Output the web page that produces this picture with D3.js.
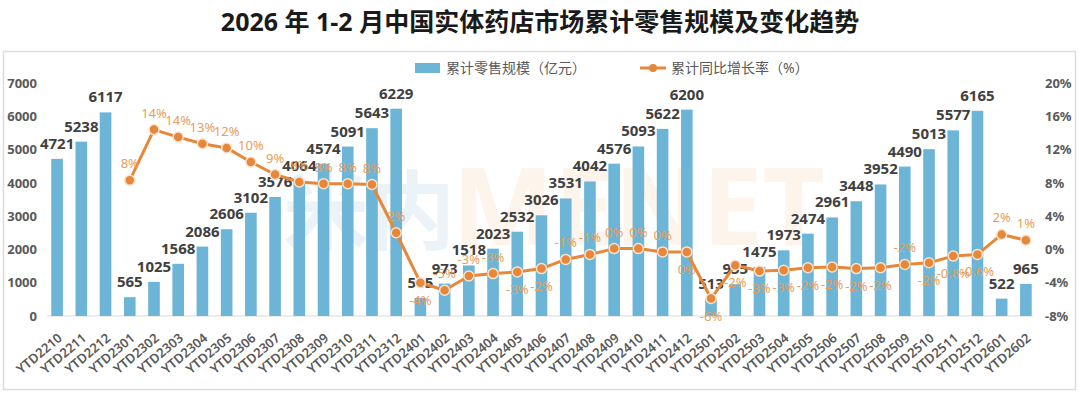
<!DOCTYPE html>
<html>
<head>
	<meta charset="utf-8">
	<title>2026年1-2月中国实体药店市场累计零售规模及变化趋势</title>
	<script src="https://d3js.org/d3.v7.min.js"></script>
	<style type="text/css">
		*
		{
			margin:0;
			padding:0;
		}
		body
		{
			background:#fff;
			font-family: "Noto Sans", "Noto Sans CJK SC", sans-serif;
		}
		#chart text
		{
			font-family: "Noto Sans", "Noto Sans CJK SC", sans-serif;
		}
	</style>
</head>
<body>
	<div id="chart"></div>
	<script>
		const months = ["YTD2210","YTD2211","YTD2212",
			"YTD2301","YTD2302","YTD2303","YTD2304","YTD2305","YTD2306","YTD2307","YTD2308","YTD2309","YTD2310","YTD2311","YTD2312",
			"YTD2401","YTD2402","YTD2403","YTD2404","YTD2405","YTD2406","YTD2407","YTD2408","YTD2409","YTD2410","YTD2411","YTD2412",
			"YTD2501","YTD2502","YTD2503","YTD2504","YTD2505","YTD2506","YTD2507","YTD2508","YTD2509","YTD2510","YTD2511","YTD2512",
			"YTD2601","YTD2602"];

		// 累计零售规模（亿元）
		const sales = [4721,5238,6117,
			565,1025,1568,2086,2606,3102,3576,4064,4574,5091,5643,6229,
			545,973,1518,2023,2532,3026,3531,4042,4576,5093,5622,6200,
			513,955,1475,1973,2474,2961,3448,3952,4490,5013,5577,6165,
			522,965];

		// 累计同比增长率（%）
		const growth = [null,null,null,
			8.3,14.4,13.5,12.7,12.2,10.5,9.0,8.1,7.9,7.9,7.8,2.0,
			-4.0,-4.9,-3.2,-2.9,-2.7,-2.3,-1.2,-0.6,0.1,0.1,-0.3,-0.3,
			-5.9,-1.9,-2.6,-2.5,-2.2,-2.1,-2.3,-2.2,-1.8,-1.6,-0.8,-0.6,
			1.8,1.1];

		const growthLabels = [null,null,null,
			"8%","14%","14%","13%","12%","10%","9%","8%","8%","8%","8%","2%",
			"-4%","-5%","-3%","-3%","-3%","-2%","-1%","-1%","0%","0%","0%","0%",
			"-6%","-2%","-3%","-3%","-2%","-2%","-2%","-2%","-2%","-2%","-0.8%","-0.6%",
			"2%","1%"];

		const leftTicks = [0,1000,2000,3000,4000,5000,6000,7000];
		const rightTicks = [-8,-4,0,4,8,12,16,20];

		// a = label above the point, b = below
		const labelSide = [null,null,null,
			"a","a","a","a","a","a","a","a","a","a","a","a",
			"b","a","a","a","b","b","a","a","a","a","a","b",
			"b","b","b","b","b","b","b","b","a","b","b","b",
			"a","a"];

		const width = 1080;
		const height = 395;
		const barColor = "#6cb5d6";
		const lineColor = "#e6873a";
		const textGray = "#595959";

		const svg = d3.select("#chart").append("svg")
			.attr("width", width)
			.attr("height", height)
			.style("background", "#fff");

		svg.append("text")
			.attr("x", 540)
			.attr("y", 31)
			.attr("text-anchor", "middle")
			.style("font-size", "25px")
			.style("font-weight", "bold")
			.style("fill", "#1a1a1a")
			.text("2026 年 1-2 月中国实体药店市场累计零售规模及变化趋势");

		svg.append("rect")
			.attr("x", 3.5)
			.attr("y", 51.5)
			.attr("width", 1072)
			.attr("height", 338)
			.style("fill", "none")
			.style("stroke", "#dcdcdc")
			.style("stroke-width", 1.5);

		const xScale = d3.scaleBand().domain(months).range([45, 1038]).paddingInner(0.52).paddingOuter(0.26);
		const yLeft = d3.scaleLinear().domain([0, 7000]).range([316, 83]);
		const yRight = d3.scaleLinear().domain([-8, 20]).range([316, 83]);
		const cx = d => xScale(d) + xScale.bandwidth()/2;

		// watermark
		const mark = svg.append("g").style("opacity", 0.09).style("font-weight", "bold");
		mark.append("text")
			.attr("x", 283).attr("y", 243)
			.style("font-size", "86px")
			.style("fill", "#2f7fb8")
			.text("米内");
		mark.append("text")
			.attr("x", 452).attr("y", 245)
			.style("font-size", "108px")
			.style("fill", "#f0913a")
			.text("MENET");

		// axes
		const leftAxis = svg.append("g")
			.attr("transform", "translate(41,0)")
			.call(d3.axisLeft(yLeft).tickValues(leftTicks).tickSize(0).tickPadding(4).tickFormat(d3.format("d")));
		const rightAxis = svg.append("g")
			.attr("transform", "translate(1041,0)")
			.call(d3.axisRight(yRight).tickValues(rightTicks).tickSize(0).tickPadding(4).tickFormat(d => d + "%"));
		[leftAxis, rightAxis].forEach(a => {
			a.select(".domain").remove();
			a.selectAll("text")
				.style("font-size", "13px")
				.style("font-weight", "bold")
				.style("fill", textGray);
		});

		svg.append("line")
			.attr("x1", 47).attr("x2", 1033)
			.attr("y1", yLeft(0)).attr("y2", yLeft(0))
			.style("stroke", "#d9d9d9")
			.style("stroke-width", 1);

		const xAxis = svg.append("g")
			.attr("transform", "translate(0," + yLeft(0) + ")")
			.call(d3.axisBottom(xScale).tickSize(0).tickPadding(0));
		xAxis.select(".domain").remove();
		xAxis.selectAll("text")
			.attr("text-anchor", "end")
			.attr("transform", "translate(3,20) rotate(-40)")
			.attr("dy", "0.35em")
			.attr("y", 0)
			.style("font-size", "13px")
			.style("font-weight", "600")
			.style("fill", textGray);

		// bars
		svg.selectAll(".bar")
			.data(sales)
			.enter()
			.append("rect")
			.attr("class", "bar")
			.attr("x", (d, i) => xScale(months[i]))
			.attr("y", d => yLeft(d))
			.attr("width", xScale.bandwidth())
			.attr("height", d => yLeft(0) - yLeft(d))
			.style("fill", barColor);

		svg.selectAll(".bar-label")
			.data(sales)
			.enter()
			.append("text")
			.attr("class", "bar-label")
			.attr("x", (d, i) => cx(months[i]))
			.attr("y", d => yLeft(d) - 10)
			.attr("text-anchor", "middle")
			.style("font-size", "15px")
			.style("font-weight", "bold")
			.style("fill", "#404040")
			.text(d => d);

		// growth line
		const points = growth.map((g, i) => ({ m: months[i], g: g, label: growthLabels[i], side: labelSide[i] }))
			.filter(p => p.g !== null);

		const line = d3.line()
			.x(p => cx(p.m))
			.y(p => yRight(p.g));

		svg.append("path")
			.datum(points)
			.attr("d", line)
			.style("fill", "none")
			.style("stroke", lineColor)
			.style("stroke-width", 3)
			.style("stroke-linejoin", "round");

		svg.selectAll(".dot")
			.data(points)
			.enter()
			.append("circle")
			.attr("class", "dot")
			.attr("cx", p => cx(p.m))
			.attr("cy", p => yRight(p.g))
			.attr("r", 5)
			.style("fill", lineColor)
			.style("stroke", "#fbe2cb")
			.style("stroke-width", 1.5);

		svg.selectAll(".rate-label")
			.data(points)
			.enter()
			.append("text")
			.attr("class", "rate-label")
			.attr("x", p => cx(p.m))
			.attr("y", p => yRight(p.g) + (p.side == "a" ? -12 : 22))
			.attr("text-anchor", "middle")
			.style("font-size", "13px")
			.style("fill", "#e99d58")
			.text(p => p.label);

		// legend
		const legend = svg.append("g").attr("id", "legend");
		legend.append("rect")
			.attr("x", 415).attr("y", 63)
			.attr("width", 25).attr("height", 10)
			.style("fill", barColor);
		legend.append("text")
			.attr("x", 446).attr("y", 73)
			.style("font-size", "14px")
			.style("fill", textGray)
			.text("累计零售规模（亿元）");
		legend.append("line")
			.attr("x1", 640).attr("x2", 666)
			.attr("y1", 68).attr("y2", 68)
			.style("stroke", lineColor)
			.style("stroke-width", 3);
		legend.append("circle")
			.attr("cx", 653).attr("cy", 68).attr("r", 4)
			.style("fill", lineColor);
		legend.append("text")
			.attr("x", 671).attr("y", 73)
			.style("font-size", "14px")
			.style("fill", textGray)
			.text("累计同比增长率（%）");
	</script>
</body>
</html>
